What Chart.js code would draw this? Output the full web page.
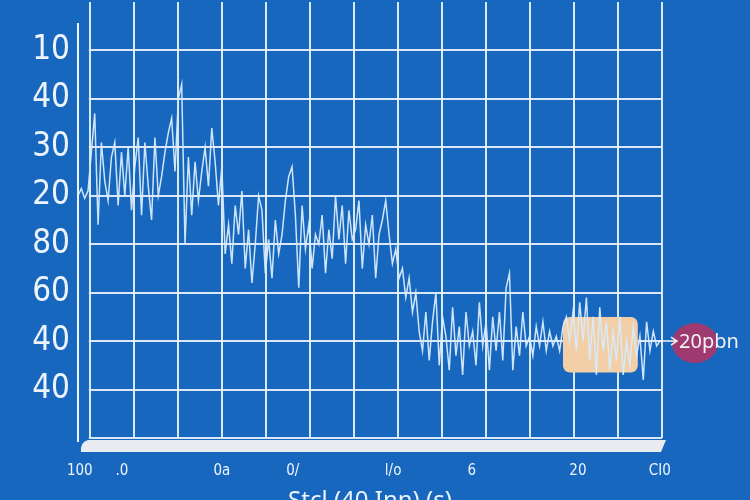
<!DOCTYPE html>
<html>
<head>
<meta charset="utf-8">
<script src="https://cdn.jsdelivr.net/npm/chart.js@4.4.1/dist/chart.umd.min.js"></script>
<style>
  html, body { margin: 0; padding: 0; background: #1767be; overflow: hidden; }
</style>
</head>
<body>
<canvas id="myChart" width="750" height="520"></canvas>
<script>
// valores leidos a ojo de la imagen (unidades = lineas de la rejilla)
var signal = [
  5.0, 5.15, 4.95, 5.1, 5.9, 6.7, 4.4, 6.1, 5.3, 4.9,
  5.8, 6.1, 4.8, 5.9, 5.0, 6.0, 4.7, 5.6, 6.2, 4.6,
  6.1, 5.2, 4.5, 6.2, 5.0, 5.4, 5.9, 6.3, 6.6, 5.5,
  7.0, 7.3, 4.0, 5.8, 4.6, 5.7, 4.9, 5.5, 6.0, 5.2,
  6.4, 5.7, 4.8, 5.6, 3.8, 4.4, 3.6, 4.8, 4.2, 5.1,
  3.5, 4.3, 3.2, 4.0, 5.0, 4.7, 3.4, 4.1, 3.3, 4.5,
  3.8, 4.2, 4.9, 5.4, 5.6, 4.6, 3.1, 4.8, 3.9, 4.4,
  3.5, 4.2, 4.0, 4.6, 3.4, 4.3, 3.7, 5.0, 4.1, 4.8,
  3.6, 4.7, 4.1, 4.3, 4.9, 3.5, 4.4, 4.0, 4.6, 3.3,
  4.2, 4.5, 4.9, 4.2, 3.6, 3.9, 3.3, 3.5, 2.9, 3.3,
  2.6, 3.0, 2.2, 1.8, 2.6, 1.6, 2.4, 3.0, 1.5, 2.5,
  2.1, 1.4, 2.7, 1.7, 2.3, 1.3, 2.6, 1.9, 2.2, 1.5,
  2.8, 1.9, 2.4, 1.4, 2.5, 1.8, 2.6, 1.6, 3.1, 3.4,
  1.4, 2.3, 1.7, 2.6, 1.9, 2.1, 1.7, 2.3, 1.9, 2.4,
  1.8, 2.2, 1.9, 2.1, 1.8, 2.3, 2.5, 2.0, 2.6, 1.8,
  2.8, 2.0, 2.9, 1.6, 2.5, 1.3, 2.7, 1.8, 2.4, 1.4,
  2.2, 1.6, 2.5, 1.3, 2.0, 1.5, 2.3, 1.7, 2.1, 1.2,
  2.4, 1.8, 2.2, 1.9, 2.0
];
var xStart = -0.27;
var xStep = 0.076;

var yTickLabels = ['', '40', '40', '60', '80', '20', '30', '40', '10'];
var xLabels = ['100', '.0', '0a', '0/', 'l/o', '6', '20', 'CI0'];
var xLabelPos = [-0.23, 0.73, 3.0, 4.61, 6.89, 8.68, 11.09, 12.95];
var xTitle = 'Stcl (40 Inn) (s)';
var badgeText = '20pbn';

var points = signal.map(function (v, i) {
  return { x: xStart + i * xStep, y: v };
});

var bg = '#1767be';
var narrow = '"Liberation Sans Narrow", "DejaVu Sans Condensed", sans-serif';
var gridColor = 'rgba(235,242,250,0.92)';

var decor = {
  id: 'decor',
  beforeDatasetsDraw: function (chart) {
    var ctx = chart.ctx, ca = chart.chartArea, x = chart.scales.x, y = chart.scales.y;
    ctx.save();
    // la rejilla horizontal empieza en la primera linea vertical
    ctx.fillStyle = bg;
    ctx.fillRect(ca.left, ca.top, x.getPixelForValue(0) - ca.left - 1, ca.bottom - ca.top + 2);

    var l = x.getPixelForValue(10.75), r = x.getPixelForValue(12.45);
    var t = y.getPixelForValue(2.5), b = y.getPixelForValue(1.35);
    ctx.fillStyle = '#f3cfa7';
    ctx.beginPath();
    ctx.roundRect(l, t, r - l, b - t, 7);
    ctx.fill();
    ctx.restore();
  },
  afterDraw: function (chart) {
    var ctx = chart.ctx, ca = chart.chartArea, x = chart.scales.x, y = chart.scales.y;
    ctx.save();
    // eje vertical
    ctx.strokeStyle = '#eef4fb';
    ctx.lineWidth = 2;
    ctx.beginPath();
    ctx.moveTo(ca.left, 23);
    ctx.lineTo(ca.left, ca.bottom + 4);
    ctx.stroke();

    // suelo claro bajo el grafico
    ctx.fillStyle = '#e9edf1';
    ctx.beginPath();
    ctx.moveTo(ca.left + 10, ca.bottom + 2);
    ctx.lineTo(ca.right + 4, ca.bottom + 2);
    ctx.lineTo(ca.right - 1, ca.bottom + 14);
    ctx.lineTo(ca.left + 3, ca.bottom + 14);
    ctx.quadraticCurveTo(ca.left + 2, ca.bottom + 4, ca.left + 10, ca.bottom + 2);
    ctx.fill();

    // flecha y circulo
    var cy = y.getPixelForValue(2.0);
    var x0 = x.getPixelForValue(12.95);
    var cx = x.getPixelForValue(13.75);
    ctx.fillStyle = 'rgba(165,56,108,0.95)';
    ctx.beginPath();
    ctx.ellipse(cx, cy + 2, 23, 20, 0, 0, Math.PI * 2);
    ctx.fill();
    ctx.strokeStyle = '#f2f2f2';
    ctx.lineWidth = 1.5;
    ctx.beginPath();
    ctx.moveTo(x0, cy);
    ctx.lineTo(cx - 18, cy);
    ctx.moveTo(cx - 24, cy - 4);
    ctx.lineTo(cx - 18, cy);
    ctx.lineTo(cx - 24, cy + 4);
    ctx.stroke();
    ctx.fillStyle = '#f4f0f4';
    ctx.font = '20px "Noto Sans", sans-serif';
    ctx.textAlign = 'left';
    ctx.textBaseline = 'middle';
    ctx.fillText(badgeText, cx - 16, cy + 1);
    ctx.restore();
  }
};

var ctx = document.getElementById('myChart').getContext('2d');
var myChart = new Chart(ctx,
{
  type: 'line',
  data: {
    datasets: [
      {
        data: points,
        borderColor: 'rgba(215,235,252,0.95)',
        borderWidth: 1.5,
        pointRadius: 0,
        tension: 0,
        fill: false,
        xAxisID: 'x',
        yAxisID: 'y'
      }
    ]
  },
  options: {
    responsive: false,
    animation: false,
    layout: { padding: { left: 0, right: 88, top: 2, bottom: 4 } },
    plugins: {
      legend: { display: false },
      tooltip: { enabled: false }
    },
    scales: {
      x: {
        type: 'linear',
        min: xStart,
        max: 13,
        afterBuildTicks: function (s) {
          var t = [];
          for (var i = 0; i <= 13; i++) t.push({ value: i });
          s.ticks = t;
        },
        ticks: { display: false },
        grid: { color: gridColor, lineWidth: 2, drawTicks: false },
        border: { display: false }
      },
      x2: {
        type: 'linear',
        position: 'bottom',
        min: xStart,
        max: 13,
        afterBuildTicks: function (s) {
          s.ticks = xLabelPos.map(function (v) { return { value: v }; });
        },
        afterFit: function (s) {
          s.height = 78;
          s.paddingLeft = 0;
          s.paddingRight = 0;
        },
        ticks: {
          autoSkip: false,
          maxRotation: 0,
          padding: 16,
          color: '#eef4fb',
          font: { family: narrow, size: 15 },
          callback: function (v, i) { return xLabels[i]; }
        },
        grid: { display: false },
        border: { display: false },
        title: {
          display: true,
          text: xTitle,
          color: '#eef4fb',
          font: { family: '"Noto Sans", sans-serif', size: 24 },
          padding: { top: 12, bottom: 0 }
        }
      },
      y: {
        min: 0,
        max: 9,
        afterBuildTicks: function (s) {
          var t = [];
          for (var i = 0; i <= 8; i++) t.push({ value: i });
          s.ticks = t;
        },
        afterFit: function (s) {
          s.width = 78;
          s.paddingTop = 0;
          s.paddingBottom = 0;
        },
        ticks: {
          padding: 8,
          color: '#eef4fb',
          font: { family: narrow, size: 33 },
          callback: function (v) { return yTickLabels[v]; }
        },
        grid: { color: gridColor, lineWidth: 2, drawTicks: false },
        border: { display: false }
      }
    }
  },
  plugins: [decor]
});
</script>
</body>
</html>
